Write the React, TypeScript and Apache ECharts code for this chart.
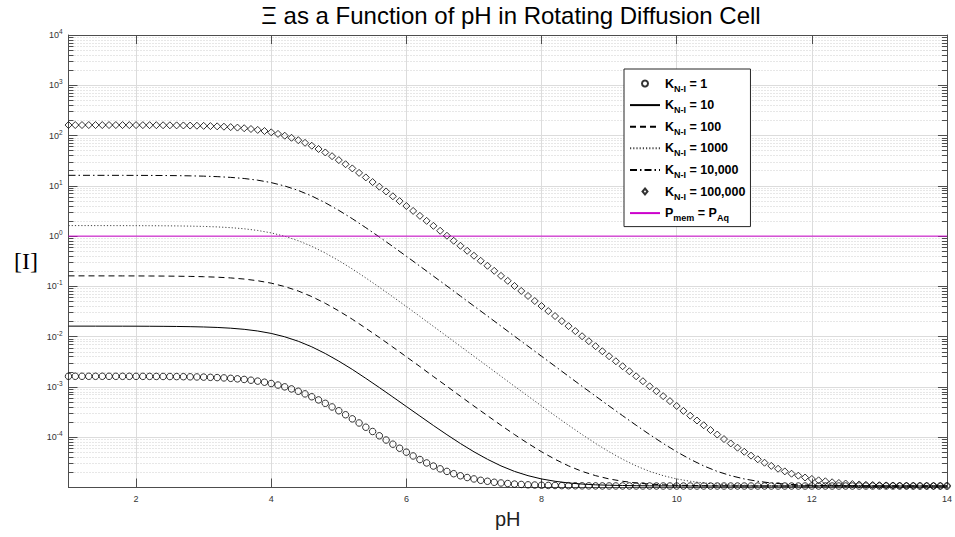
import React, { useEffect, useRef } from 'react';
import * as echarts from 'echarts';

// pH grid for the marker series (every 0.1)
const pHMarkers = [
  1.0, 1.1, 1.2, 1.3, 1.4, 1.5, 1.6, 1.7, 1.8, 1.9,
  2.0, 2.1, 2.2, 2.3, 2.4, 2.5, 2.6, 2.7, 2.8, 2.9,
  3.0, 3.1, 3.2, 3.3, 3.4, 3.5, 3.6, 3.7, 3.8, 3.9,
  4.0, 4.1, 4.2, 4.3, 4.4, 4.5, 4.6, 4.7, 4.8, 4.9,
  5.0, 5.1, 5.2, 5.3, 5.4, 5.5, 5.6, 5.7, 5.8, 5.9,
  6.0, 6.1, 6.2, 6.3, 6.4, 6.5, 6.6, 6.7, 6.8, 6.9,
  7.0, 7.1, 7.2, 7.3, 7.4, 7.5, 7.6, 7.7, 7.8, 7.9,
  8.0, 8.1, 8.2, 8.3, 8.4, 8.5, 8.6, 8.7, 8.8, 8.9,
  9.0, 9.1, 9.2, 9.3, 9.4, 9.5, 9.6, 9.7, 9.8, 9.9,
  10.0, 10.1, 10.2, 10.3, 10.4, 10.5, 10.6, 10.7, 10.8, 10.9,
  11.0, 11.1, 11.2, 11.3, 11.4, 11.5, 11.6, 11.7, 11.8, 11.9,
  12.0, 12.1, 12.2, 12.3, 12.4, 12.5, 12.6, 12.7, 12.8, 12.9,
  13.0, 13.1, 13.2, 13.3, 13.4, 13.5, 13.6, 13.7, 13.8, 13.9,
  14.0,
];

// pH grid for the line series (every 0.2)
const pHLines = [
  1.0, 1.2, 1.4, 1.6, 1.8, 2.0, 2.2, 2.4, 2.6, 2.8,
  3.0, 3.2, 3.4, 3.6, 3.8, 4.0, 4.2, 4.4, 4.6, 4.8,
  5.0, 5.2, 5.4, 5.6, 5.8, 6.0, 6.2, 6.4, 6.6, 6.8,
  7.0, 7.2, 7.4, 7.6, 7.8, 8.0, 8.2, 8.4, 8.6, 8.8,
  9.0, 9.2, 9.4, 9.6, 9.8, 10.0, 10.2, 10.4, 10.6, 10.8,
  11.0, 11.2, 11.4, 11.6, 11.8, 12.0, 12.2, 12.4, 12.6, 12.8,
  13.0, 13.2, 13.4, 13.6, 13.8, 14.0,
];

// K_N-I = 1 (circles)
const xiK1 = [
  1.630e-3, 1.630e-3, 1.630e-3, 1.629e-3, 1.629e-3, 1.629e-3, 1.628e-3, 1.627e-3, 1.627e-3, 1.626e-3,
  1.624e-3, 1.623e-3, 1.621e-3, 1.618e-3, 1.615e-3, 1.611e-3, 1.606e-3, 1.599e-3, 1.591e-3, 1.581e-3,
  1.569e-3, 1.553e-3, 1.535e-3, 1.512e-3, 1.483e-3, 1.449e-3, 1.410e-3, 1.361e-3, 1.306e-3, 1.242e-3,
  1.170e-3, 1.090e-3, 1.004e-3, 9.14e-4, 8.21e-4, 7.28e-4, 6.38e-4, 5.52e-4, 4.72e-4, 4.00e-4,
  3.36e-4, 2.80e-4, 2.32e-4, 1.92e-4, 1.58e-4, 1.30e-4, 1.068e-4, 8.80e-5, 7.27e-5, 6.04e-5,
  5.04e-5, 4.24e-5, 3.60e-5, 3.08e-5, 2.67e-5, 2.35e-5, 2.09e-5, 1.88e-5, 1.71e-5, 1.58e-5,
  1.48e-5, 1.39e-5, 1.33e-5, 1.27e-5, 1.23e-5, 1.20e-5, 1.17e-5, 1.15e-5, 1.13e-5, 1.12e-5,
  1.11e-5, 1.10e-5, 1.096e-5, 1.09e-5, 1.086e-5, 1.083e-5, 1.08e-5, 1.078e-5, 1.076e-5, 1.075e-5,
  1.074e-5, 1.074e-5, 1.073e-5, 1.073e-5, 1.072e-5, 1.072e-5, 1.072e-5, 1.071e-5, 1.071e-5, 1.071e-5,
  1.07e-5, 1.07e-5, 1.07e-5, 1.07e-5, 1.07e-5, 1.07e-5, 1.07e-5, 1.07e-5, 1.07e-5, 1.07e-5,
  1.07e-5, 1.07e-5, 1.07e-5, 1.07e-5, 1.07e-5, 1.07e-5, 1.07e-5, 1.07e-5, 1.07e-5, 1.07e-5,
  1.07e-5, 1.07e-5, 1.07e-5, 1.07e-5, 1.07e-5, 1.07e-5, 1.07e-5, 1.07e-5, 1.07e-5, 1.07e-5,
  1.07e-5, 1.07e-5, 1.07e-5, 1.07e-5, 1.07e-5, 1.07e-5, 1.07e-5, 1.07e-5, 1.07e-5, 1.07e-5,
  1.07e-5,
];

// K_N-I = 100,000 (diamonds)
const xiK100000 = [
  161.9, 161.9, 161.9, 161.9, 161.8, 161.8, 161.7, 161.7, 161.6, 161.5,
  161.4, 161.2, 161.0, 160.7, 160.4, 160.0, 159.5, 158.8, 158.0, 157.0,
  155.8, 154.3, 152.4, 150.1, 147.3, 143.9, 139.9, 135.0, 129.5, 123.1,
  115.9, 107.9, 99.3, 90.3, 81.0, 71.7, 62.7, 54.1, 46.1, 38.9,
  32.5, 26.9, 22.2, 18.1, 14.7, 11.9, 9.61, 7.73, 6.20, 4.97,
  3.97, 3.17, 2.53, 2.01, 1.60, 1.277, 1.016, 0.808, 0.642, 0.511,
  0.407, 0.323, 0.257, 0.204, 0.162, 0.129, 0.102, 0.0812, 0.0645, 0.0512,
  0.0407, 0.0323, 0.0257, 0.0204, 0.0162, 0.0129, 0.0102, 0.00813, 0.00646, 0.00513,
  0.00408, 0.00324, 0.00258, 0.00205, 0.00163, 0.00130, 0.00103, 8.23e-4, 6.56e-4, 5.23e-4,
  4.18e-4, 3.34e-4, 2.68e-4, 2.15e-4, 1.73e-4, 1.39e-4, 1.13e-4, 9.19e-5, 7.52e-5, 6.19e-5,
  5.14e-5, 4.30e-5, 3.64e-5, 3.11e-5, 2.69e-5, 2.36e-5, 2.09e-5, 1.88e-5, 1.72e-5, 1.58e-5,
  1.48e-5, 1.39e-5, 1.33e-5, 1.27e-5, 1.23e-5, 1.20e-5, 1.17e-5, 1.15e-5, 1.13e-5, 1.12e-5,
  1.11e-5, 1.10e-5, 1.096e-5, 1.09e-5, 1.086e-5, 1.083e-5, 1.08e-5, 1.078e-5, 1.076e-5, 1.075e-5,
  1.074e-5,
];

// K_N-I = 10 (solid)
const xiK10 = [
  0.01620, 0.01620, 0.01619, 0.01618, 0.01617, 0.01615, 0.01611, 0.01605, 0.01596, 0.01581,
  0.01559, 0.01525, 0.01474, 0.01400, 0.01296, 0.01160, 0.00994, 0.00811, 0.00628, 0.00462,
  0.00326, 0.00223, 0.00148, 9.72e-4, 6.31e-4, 4.08e-4, 2.64e-4, 1.71e-4, 1.123e-4, 7.49e-5,
  5.13e-5, 3.64e-5, 2.69e-5, 2.09e-5, 1.72e-5, 1.48e-5, 1.33e-5, 1.23e-5, 1.17e-5, 1.13e-5,
  1.11e-5, 1.096e-5, 1.086e-5, 1.08e-5, 1.076e-5, 1.074e-5, 1.072e-5, 1.071e-5, 1.07e-5, 1.07e-5,
  1.07e-5, 1.07e-5, 1.07e-5, 1.07e-5, 1.07e-5, 1.07e-5, 1.07e-5, 1.07e-5, 1.07e-5, 1.07e-5,
  1.07e-5, 1.07e-5, 1.07e-5, 1.07e-5, 1.07e-5, 1.07e-5,
];

// K_N-I = 100 (dashed)
const xiK100 = [
  0.1619, 0.1619, 0.1618, 0.1617, 0.1616, 0.1614, 0.1610, 0.1604, 0.1595, 0.1580,
  0.1558, 0.1524, 0.1473, 0.1399, 0.1295, 0.1159, 0.0993, 0.0810, 0.0627, 0.0461,
  0.0325, 0.0222, 0.0147, 0.00962, 0.00621, 0.00398, 0.00254, 0.00161, 0.00103, 6.53e-4,
  4.17e-4, 2.68e-4, 1.73e-4, 1.13e-4, 7.52e-5, 5.14e-5, 3.64e-5, 2.69e-5, 2.09e-5, 1.72e-5,
  1.48e-5, 1.33e-5, 1.23e-5, 1.17e-5, 1.13e-5, 1.11e-5, 1.096e-5, 1.086e-5, 1.08e-5, 1.076e-5,
  1.074e-5, 1.072e-5, 1.071e-5, 1.07e-5, 1.07e-5, 1.07e-5, 1.07e-5, 1.07e-5, 1.07e-5, 1.07e-5,
  1.07e-5, 1.07e-5, 1.07e-5, 1.07e-5, 1.07e-5, 1.07e-5,
];

// K_N-I = 1000 (dotted)
const xiK1000 = [
  1.619, 1.619, 1.618, 1.617, 1.616, 1.614, 1.610, 1.604, 1.595, 1.580,
  1.558, 1.524, 1.473, 1.399, 1.295, 1.159, 0.993, 0.810, 0.627, 0.461,
  0.325, 0.222, 0.147, 0.0961, 0.0620, 0.0397, 0.0253, 0.0160, 0.01017, 0.00643,
  0.00407, 0.00258, 0.00163, 0.00103, 6.56e-4, 4.18e-4, 2.68e-4, 1.73e-4, 1.13e-4, 7.52e-5,
  5.14e-5, 3.64e-5, 2.69e-5, 2.09e-5, 1.72e-5, 1.48e-5, 1.33e-5, 1.23e-5, 1.17e-5, 1.13e-5,
  1.11e-5, 1.096e-5, 1.086e-5, 1.08e-5, 1.076e-5, 1.074e-5, 1.072e-5, 1.071e-5, 1.07e-5, 1.07e-5,
  1.07e-5, 1.07e-5, 1.07e-5, 1.07e-5, 1.07e-5, 1.07e-5,
];

// K_N-I = 10,000 (dash-dot)
const xiK10000 = [
  16.19, 16.19, 16.18, 16.17, 16.16, 16.14, 16.10, 16.04, 15.95, 15.80,
  15.58, 15.24, 14.73, 13.99, 12.95, 11.59, 9.93, 8.10, 6.27, 4.61,
  3.25, 2.22, 1.47, 0.961, 0.620, 0.397, 0.253, 0.160, 0.1016, 0.0642,
  0.0406, 0.0257, 0.0162, 0.0102, 0.00646, 0.00408, 0.00258, 0.00163, 0.00103, 6.56e-4,
  4.18e-4, 2.68e-4, 1.73e-4, 1.13e-4, 7.52e-5, 5.14e-5, 3.64e-5, 2.69e-5, 2.09e-5, 1.72e-5,
  1.48e-5, 1.33e-5, 1.23e-5, 1.17e-5, 1.13e-5, 1.11e-5, 1.096e-5, 1.086e-5, 1.08e-5, 1.076e-5,
  1.074e-5, 1.072e-5, 1.071e-5, 1.07e-5, 1.07e-5, 1.07e-5,
];

// P_mem = P_Aq reference line
const pmemX = [1, 14];
const pmemY = [1, 1];

const seriesNames = ['K1', 'K10', 'K100', 'K1000', 'K10000', 'K100000', 'Pmem'];
const legendLabels = [
  '{b|K}{s|N-I}{b| = 1}',
  '{b|K}{s|N-I}{b| = 10}',
  '{b|K}{s|N-I}{b| = 100}',
  '{b|K}{s|N-I}{b| = 1000}',
  '{b|K}{s|N-I}{b| = 10,000}',
  '{b|K}{s|N-I}{b| = 100,000}',
  '{b|P}{s|mem}{b| = P}{s|Aq}',
];
const lineSeriesNames = ['K10', 'K100', 'K1000', 'K10000', 'Pmem'];

const titleText = 'Ξ as a Function of pH in Rotating Diffusion Cell';
const xName = 'pH';
const yName = '[I]';

const FONT = "'Liberation Sans', Arial, Helvetica, sans-serif";
const AXIS = '#4d4d4d';
const LABEL = '#333333';
const DIAMOND_ICON = 'path://M5,0L10,6L5,12L0,6Z';

export default function App() {
  const ref = useRef<HTMLDivElement>(null);

  useEffect(() => {
    if (!ref.current) return;
    const chart = echarts.init(ref.current, null, { renderer: 'svg' });

    const minorVals: number[] = [];
    for (let e = -5; e <= 3; e++) {
      for (let m = 2; m <= 9; m++) {
        minorVals.push(Number((m * Math.pow(10, e)).toPrecision(3)));
      }
    }

    const yMin = 1e-5;
    const yMax = 1e4;

    const pairs = (xs: number[], ys: number[]) => xs.map((x, i) => [x, ys[i]]);

    const lineSeries = (name: string, xs: number[], ys: number[], type: any, color = '#000', width = 1) => ({
      name,
      type: 'line',
      data: pairs(xs, ys),
      symbol: 'none',
      showSymbol: false,
      clip: true,
      lineStyle: { color, width, type },
      itemStyle: { color },
      z: 2,
    });

    const legendData = seriesNames.map((name) => {
      if (lineSeriesNames.indexOf(name) >= 0) return { name, itemStyle: { opacity: 0 } };
      if (name === 'K100000') return { name, icon: DIAMOND_ICON };
      return { name };
    });

    const option: any = {
      animation: false,
      backgroundColor: '#ffffff',
      textStyle: { fontFamily: FONT },
      grid: { left: 68.5, right: 3, top: 35, bottom: 49.5 },
      graphic: [
        {
          type: 'text',
          x: 511,
          y: 3,
          style: {
            text: titleText,
            fontSize: 24,
            fontFamily: FONT,
            fill: '#000',
            align: 'center',
            verticalAlign: 'top',
          },
        },
        {
          type: 'text',
          x: 14,
          y: 249,
          style: {
            text: yName,
            fontSize: 24,
            fontFamily: "'Liberation Serif', 'Times New Roman', serif",
            fill: '#000',
          },
        },
      ],
      legend: {
        orient: 'vertical',
        left: 624,
        top: 69,
        data: legendData,
        formatter: (name: string) => legendLabels[seriesNames.indexOf(name)],
        itemWidth: 30,
        itemHeight: 6,
        itemGap: 2.6,
        symbolKeepAspect: true,
        padding: [5, 5, 4, 5],
        backgroundColor: '#ffffff',
        borderColor: '#262626',
        borderWidth: 1,
        selectedMode: false,
        textStyle: {
          color: '#000',
          rich: {
            b: { fontSize: 12.5, fontWeight: 'bold', color: '#000', fontFamily: FONT, lineHeight: 14 },
            s: { fontSize: 9, fontWeight: 'bold', color: '#000', fontFamily: FONT, lineHeight: 9, padding: [10, 0, 0, 0] },
          },
        },
      },
      xAxis: [
        {
          type: 'value',
          min: 1,
          max: 14,
          splitNumber: 7,
          position: 'bottom',
          name: xName,
          nameLocation: 'middle',
          nameGap: 21,
          nameTextStyle: { fontSize: 20, color: '#222', fontFamily: FONT },
          axisLine: { show: true, onZero: false, lineStyle: { color: AXIS, width: 1 } },
          axisTick: { show: true, inside: true, length: 9, lineStyle: { color: AXIS } },
          axisLabel: { show: true, showMinLabel: false, color: LABEL, fontSize: 9, margin: 7, fontFamily: FONT },
          splitLine: { show: true, lineStyle: { color: '#dcdcdc', width: 1 } },
        },
        {
          type: 'value',
          min: 1,
          max: 14,
          splitNumber: 7,
          position: 'top',
          axisLine: { show: true, onZero: false, lineStyle: { color: AXIS, width: 1 } },
          axisTick: { show: true, inside: true, length: 9, lineStyle: { color: AXIS } },
          axisLabel: { show: false },
          splitLine: { show: false },
        },
      ],
      yAxis: [
        {
          type: 'log',
          logBase: 10,
          min: yMin,
          max: yMax,
          position: 'left',
          axisLine: { show: true, onZero: false, lineStyle: { color: AXIS, width: 1 } },
          axisTick: { show: true, inside: true, length: 9, lineStyle: { color: AXIS } },
          axisLabel: {
            show: true,
            showMinLabel: false,
            margin: 6,
            formatter: (v: number) => `{b|10}{s|${Math.round(Math.log10(v))}}`,
            rich: {
              b: { fontSize: 9, color: LABEL, fontFamily: FONT },
              s: { fontSize: 6.5, color: LABEL, fontFamily: FONT, padding: [0, 0, 7, 0] },
            },
          },
          splitLine: { show: true, lineStyle: { color: '#dcdcdc', width: 1 } },
        },
        {
          type: 'log',
          logBase: 10,
          min: yMin,
          max: yMax,
          position: 'left',
          axisLine: { show: false },
          axisLabel: { show: false },
          axisTick: { show: true, inside: true, length: 5, customValues: minorVals, lineStyle: { color: AXIS } },
          splitLine: { show: true, lineStyle: { color: '#cfcfcf', width: 1, type: [1, 2] } },
        },
        {
          type: 'log',
          logBase: 10,
          min: yMin,
          max: yMax,
          position: 'right',
          axisLine: { show: true, onZero: false, lineStyle: { color: AXIS, width: 1 } },
          axisTick: { show: true, inside: true, length: 9, lineStyle: { color: AXIS } },
          axisLabel: { show: false },
          splitLine: { show: false },
        },
        {
          type: 'log',
          logBase: 10,
          min: yMin,
          max: yMax,
          position: 'right',
          axisLine: { show: false },
          axisLabel: { show: false },
          axisTick: { show: true, inside: true, length: 5, customValues: minorVals, lineStyle: { color: AXIS } },
          splitLine: { show: false },
        },
      ],
      series: [
        {
          name: 'K1',
          type: 'scatter',
          data: pairs(pHMarkers, xiK1),
          symbol: 'circle',
          symbolSize: 6.5,
          itemStyle: { color: 'rgba(0,0,0,0)', borderColor: '#000', borderWidth: 1 },
          z: 3,
        },
        lineSeries('K10', pHLines, xiK10, 'solid'),
        lineSeries('K100', pHLines, xiK100, [6, 4]),
        lineSeries('K1000', pHLines, xiK1000, [1.2, 2], '#444'),
        lineSeries('K10000', pHLines, xiK10000, [7, 3, 1.5, 3]),
        {
          name: 'K100000',
          type: 'scatter',
          data: pairs(pHMarkers, xiK100000),
          symbol: 'diamond',
          symbolSize: 7,
          itemStyle: { color: 'rgba(0,0,0,0)', borderColor: '#000', borderWidth: 1 },
          z: 3,
        },
        lineSeries('Pmem', pmemX, pmemY, 'solid', '#cc00cc', 1),
      ],
    };

    chart.setOption(option);
    return () => chart.dispose();
  }, []);

  return (
    <div
      ref={ref}
      style={{ position: 'fixed', left: 0, top: 0, width: 955, height: 537, background: '#fff' }}
    />
  );
}
